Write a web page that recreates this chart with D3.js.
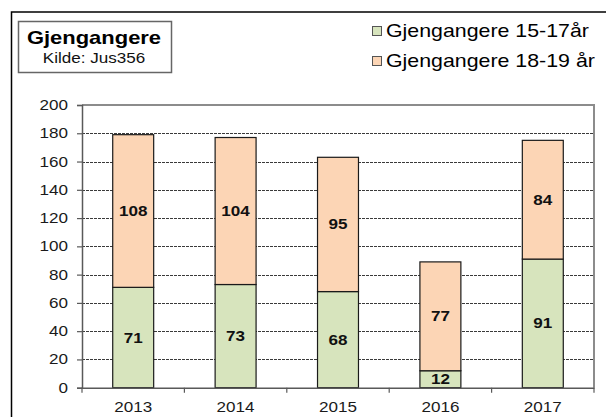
<!DOCTYPE html>
<html>
<head>
<meta charset="utf-8">
<style>
  body { margin: 0; background: #fff; }
  svg { display: block; font-family: "Liberation Sans", Arial, sans-serif; }
</style>
</head>
<body>
<div id="chart"></div>
<script src="https://d3js.org/d3.v7.min.js"></script>
<script>
  // Data
  const years = ['2013', '2014', '2015', '2016', '2017'];
  const young = [71, 73, 68, 12, 91];     // 15-17 år
  const older = [108, 104, 95, 77, 84];   // 18-19 år
  const seriesNames = ['Gjengangere 15-17år', 'Gjengangere 18-19 år'];
  const seriesColors = ['#d7e4bd', '#fcd5b5'];
  const yTicks = [0, 20, 40, 60, 80, 100, 120, 140, 160, 180, 200];

  const width = 606;
  const height = 417;
  const margin = { top: 105, right: 12, bottom: 29.3, left: 82 };
  const SX = 1.22; // the original text is stretched sideways

  const svg = d3.select('#chart')
    .append('svg')
    .attr('width', width)
    .attr('height', height);

  // helper: text placed at x,y with the horizontal stretch
  function label(g, x, y, txt) {
    return g.append('text')
      .attr('transform', `translate(${x},${y}) scale(${SX},1)`)
      .text(txt);
  }

  // outer frame (only left and top are inside the picture)
  svg.append('path')
    .attr('d', `M11.5,${height} V12 H${width}`)
    .attr('fill', 'none')
    .attr('stroke', '#000')
    .attr('stroke-width', 1.5);

  const x = d3.scaleBand()
    .domain(years)
    .range([margin.left, width - margin.right])
    .paddingInner(0)
    .paddingOuter(0);

  const y = d3.scaleLinear()
    .domain([0, 200])
    .range([height - margin.bottom, margin.top]);

  // dashed gridlines
  svg.append('g')
    .selectAll('line')
    .data(yTicks.filter(d => d > 0 && d < 200))
    .enter()
    .append('line')
    .attr('x1', margin.left)
    .attr('x2', width - margin.right)
    .attr('y1', d => Math.round(y(d)) + 0.5)
    .attr('y2', d => Math.round(y(d)) + 0.5)
    .attr('stroke', '#3a3a3a')
    .attr('stroke-dasharray', '3,1');

  // plot border top + right
  svg.append('path')
    .attr('d', `M${margin.left},${y(200)} H${width - margin.right} V${y(0)}`)
    .attr('fill', 'none')
    .attr('stroke', '#8c8c8c')
    .attr('stroke-width', 2);

  // stacked bars
  const stack = d3.stack().keys([0, 1]);
  const rows = years.map((yr, i) => ({ year: yr, 0: young[i], 1: older[i] }));
  const layers = stack(rows);
  const bw = x.bandwidth() * 0.4;

  layers.forEach((layer, k) => {
    const g = svg.append('g');
    g.selectAll('rect')
      .data(layer)
      .enter()
      .append('rect')
      .attr('x', d => x(d.data.year) + (x.bandwidth() - bw) / 2)
      .attr('y', d => y(d[1]))
      .attr('width', bw)
      .attr('height', d => y(d[0]) - y(d[1]))
      .attr('fill', seriesColors[k])
      .attr('stroke', '#1a1a1a')
      .attr('stroke-width', 1.2);

    layer.forEach(d => {
      label(g, x(d.data.year) + x.bandwidth() / 2, (y(d[0]) + y(d[1])) / 2 + 5, d[1] - d[0])
        .attr('text-anchor', 'middle')
        .attr('font-size', 14)
        .attr('font-weight', 'bold')
        .attr('fill', '#111');
    });
  });

  // y axis
  const yAxis = d3.axisLeft(y).tickValues(yTicks).tickSize(5).tickFormat('');
  const yg = svg.append('g')
    .attr('transform', `translate(${margin.left},0)`)
    .call(yAxis);
  yg.select('.domain').attr('stroke', '#595959').attr('stroke-width', 1.5);
  yg.selectAll('.tick line').attr('stroke', '#595959').attr('stroke-width', 1.2);
  yTicks.forEach(t => {
    label(svg, 68, y(t) + 5, t)
      .attr('text-anchor', 'end')
      .attr('font-size', 14)
      .attr('fill', '#1a1a1a');
  });

  // x axis
  const xAxis = d3.axisBottom(x).tickSize(0).tickFormat('');
  const xg = svg.append('g')
    .attr('transform', `translate(0,${y(0)})`)
    .call(xAxis);
  xg.select('.domain').attr('stroke', '#595959').attr('stroke-width', 1.5);
  // ticks between categories
  xg.selectAll('.sep')
    .data(years.concat(['end']))
    .enter()
    .append('line')
    .attr('x1', (d, i) => margin.left + i * x.bandwidth())
    .attr('x2', (d, i) => margin.left + i * x.bandwidth())
    .attr('y1', 0)
    .attr('y2', 5)
    .attr('stroke', '#595959')
    .attr('stroke-width', 1.2);
  years.forEach(yr => {
    label(svg, x(yr) + x.bandwidth() / 2, 412, yr)
      .attr('text-anchor', 'middle')
      .attr('font-size', 14)
      .attr('fill', '#1a1a1a');
  });

  // title box
  svg.append('rect')
    .attr('x', 18.5)
    .attr('y', 21.5)
    .attr('width', 153)
    .attr('height', 51)
    .attr('fill', '#fff')
    .attr('stroke', '#666')
    .attr('stroke-width', 1.5);
  label(svg, 94, 44, 'Gjengangere')
    .attr('text-anchor', 'middle')
    .attr('font-size', 18)
    .attr('font-weight', 'bold')
    .attr('fill', '#000');
  label(svg, 94, 63, 'Kilde: Jus356')
    .attr('text-anchor', 'middle')
    .attr('font-size', 14)
    .attr('fill', '#111');

  // legend
  const legendY = [31, 61];
  seriesNames.forEach((name, i) => {
    svg.append('rect')
      .attr('x', 372.5)
      .attr('y', legendY[i] - 4.5)
      .attr('width', 9)
      .attr('height', 9)
      .attr('fill', seriesColors[i])
      .attr('stroke', '#555')
      .attr('stroke-width', 1);
    label(svg, 386, legendY[i] + 6, name)
      .attr('font-size', 17.5)
      .attr('fill', '#000');
  });
</script>
</body>
</html>
